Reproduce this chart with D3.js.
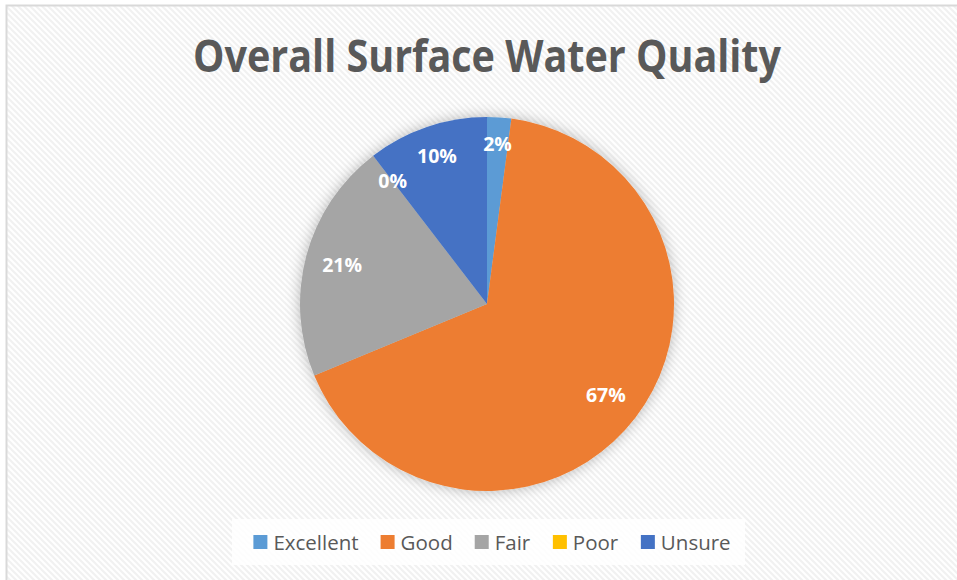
<!DOCTYPE html>
<html>
<head>
<meta charset="utf-8">
<script src="https://cdn.jsdelivr.net/npm/d3@7"></script>
<style>
  body { margin: 0; background: #fff; }
  svg { display: block; }
</style>
</head>
<body>
<div id="chart"></div>
<script>
// chart data (counts that give 2/67/21/0/10 %)
const categories = ["Excellent", "Good", "Fair", "Poor", "Unsure"];
const counts = [1, 32, 10, 0, 5];
const colors = ["#5b9bd5", "#ed7d31", "#a5a5a5", "#ffc000", "#4472c4"];
const title = "Overall Surface Water Quality";

const width = 957,
  height = 580,
  cx = 487,
  cy = 304,
  radius = 187;

const total = d3.sum(counts);
const color = d3.scaleOrdinal(categories, colors);

const svg = d3.select("#chart")
  .append("svg")
  .attr("width", width)
  .attr("height", height);

const defs = svg.append("defs");

// light diagonal hatch used by the chart area
const pat = defs.append("pattern")
  .attr("id", "hatch")
  .attr("patternUnits", "userSpaceOnUse")
  .attr("width", 6)
  .attr("height", 6);
pat.append("rect").attr("width", 6).attr("height", 6).attr("fill", "#ffffff");
pat.append("path")
  .attr("d", "M0,0 l6,6 M-1,5 l2,2 M5,-1 l2,2")
  .attr("stroke", "#f1f1f1")
  .attr("stroke-width", 2);

const shadow = defs.append("filter")
  .attr("id", "glow")
  .attr("x", "-20%").attr("y", "-20%")
  .attr("width", "140%").attr("height", "140%");
shadow.append("feDropShadow")
  .attr("dx", 0).attr("dy", 0)
  .attr("stdDeviation", 7)
  .attr("flood-color", "#000")
  .attr("flood-opacity", 0.28);

svg.append("rect")
  .attr("x", 6.5)
  .attr("y", 5.5)
  .attr("width", width + 20)
  .attr("height", height + 20)
  .attr("fill", "url(#hatch)")
  .attr("stroke", "#d9d9d9")
  .attr("stroke-width", 2);

svg.append("text")
  .attr("x", cx)
  .attr("y", 72)
  .attr("text-anchor", "middle")
  .attr("font-family", "'Open Sans', sans-serif")
  .attr("font-weight", 700)
  .attr("font-size", 44)
  .attr("fill", "#595959")
  .attr("textLength", 588)
  .attr("lengthAdjust", "spacingAndGlyphs")
  .text(title);

const pie = d3.pie().sort(null).value(d => d.value);
const arcs = pie(categories.map((name, i) => ({ name, value: counts[i] })));

const arc = d3.arc().innerRadius(0).outerRadius(radius);

const g = svg.append("g")
  .attr("transform", `translate(${cx},${cy})`);

g.append("g")
  .attr("filter", "url(#glow)")
  .selectAll("path")
  .data(arcs)
  .join("path")
  .attr("d", arc)
  .attr("fill", d => color(d.data.name));

// labels sit just inside the rim: the box edge nearest the rim touches labelEdge
const labelEdge = 172;
g.append("g")
  .selectAll("text")
  .data(arcs)
  .join("text")
  .attr("font-family", "'Open Sans', sans-serif")
  .attr("font-weight", 700)
  .attr("font-size", 19.5)
  .attr("fill", "#fff")
  .attr("text-anchor", "middle")
  .attr("dy", "0.35em")
  .text(d => Math.round(d.data.value / total * 100) + "%")
  .each(function (d) {
    const b = this.getBBox();
    const a = (d.startAngle + d.endAngle) / 2;
    const ext = Math.abs(b.width / 2 * Math.sin(a)) + Math.abs((b.height / 2 - 3) * Math.cos(a));
    const r = labelEdge - ext;
    d3.select(this)
      .attr("x", r * Math.sin(a))
      .attr("y", -r * Math.cos(a));
  });

// legend
const legend = svg.append("g");
legend.append("rect")
  .attr("x", 232)
  .attr("y", 519)
  .attr("width", 513)
  .attr("height", 46)
  .attr("fill", "#fff")
  .attr("fill-opacity", 0.85);

const items = legend.selectAll("g")
  .data(categories)
  .join("g");

items.append("rect")
  .attr("width", 14)
  .attr("height", 14)
  .attr("y", 535)
  .attr("fill", d => color(d));

items.append("text")
  .attr("x", 20)
  .attr("y", 549.5)
  .attr("font-family", "'Open Sans', sans-serif")
  .attr("font-size", 20.5)
  .attr("fill", "#595959")
  .text(d => d);

// lay items out in a row, centred under the pie
const gap = 22;
const widths = [];
items.each(function () { widths.push(this.getBBox().width); });
const rowWidth = d3.sum(widths) + gap * (widths.length - 1);
let x = cx + 5 - rowWidth / 2;
items.each(function (d, i) {
  d3.select(this).attr("transform", `translate(${x},0)`);
  x += widths[i] + gap;
});
</script>
</body>
</html>
